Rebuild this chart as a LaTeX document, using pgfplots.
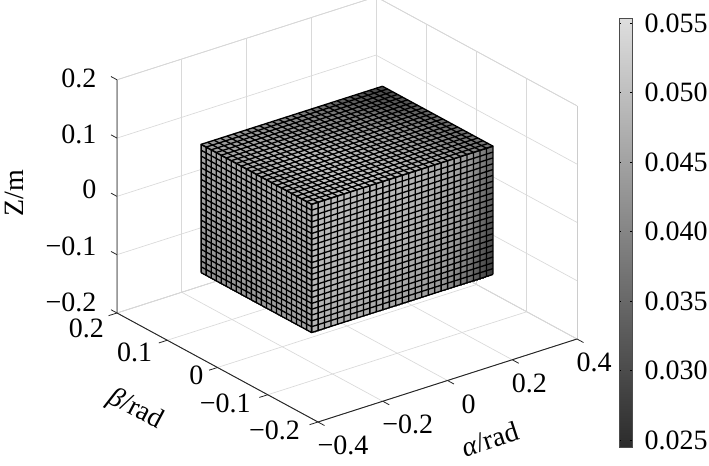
\documentclass[border=0pt]{standalone}
\usepackage{fontspec}
\setmainfont{Liberation Serif}
\usepackage{pgfplots}
\pgfplotsset{compat=1.18}
\newcommand{\lab}{\fontsize{21}{25}\selectfont}
\pgfplotstableread{
x y z m
-0.28 -0.11 -0.11 0.0479
-0.20 -0.11 -0.11 0.0470
-0.10 -0.11 -0.11 0.0461
0.00 -0.11 -0.11 0.0452
0.10 -0.11 -0.11 0.0435
0.20 -0.11 -0.11 0.0368
0.24 -0.11 -0.11 0.0311
0.28 -0.11 -0.11 0.0267

-0.28 -0.11 0.00 0.0487
-0.20 -0.11 0.00 0.0487
-0.10 -0.11 0.00 0.0487
0.00 -0.11 0.00 0.0479
0.10 -0.11 0.00 0.0461
0.20 -0.11 0.00 0.0426
0.24 -0.11 0.00 0.0368
0.28 -0.11 0.00 0.0315

-0.28 -0.11 0.11 0.0487
-0.20 -0.11 0.11 0.0496
-0.10 -0.11 0.11 0.0487
0.00 -0.11 0.11 0.0487
0.10 -0.11 0.11 0.0470
0.20 -0.11 0.11 0.0443
0.24 -0.11 0.11 0.0399
0.28 -0.11 0.11 0.0355
}\frontface
\pgfplotstableread{
x y z m
-0.28 -0.11 -0.11 0.0452
-0.28 0.00 -0.11 0.0435
-0.28 0.11 -0.11 0.0418

-0.28 -0.11 0.00 0.0461
-0.28 0.00 0.00 0.0461
-0.28 0.11 0.00 0.0443

-0.28 -0.11 0.11 0.0470
-0.28 0.00 0.11 0.0470
-0.28 0.11 0.11 0.0452
}\leftface
\pgfplotstableread{
x y z m
-0.28 -0.11 0.11 0.0487
-0.14 -0.11 0.11 0.0513
0.00 -0.11 0.11 0.0496
0.14 -0.11 0.11 0.0461
0.28 -0.11 0.11 0.0368

-0.28 0.00 0.11 0.0470
-0.14 0.00 0.11 0.0505
0.00 0.00 0.11 0.0479
0.14 0.00 0.11 0.0435
0.28 0.00 0.11 0.0346

-0.28 0.11 0.11 0.0435
-0.14 0.11 0.11 0.0426
0.00 0.11 0.11 0.0391
0.14 0.11 0.11 0.0338
0.28 0.11 0.11 0.0289
}\topface
\begin{document}
\begin{tikzpicture}
\useasboundingbox (0,0) rectangle (531.75pt,349.5pt);
\clip (0,0) rectangle (531.75pt,349.5pt);
\begin{axis}[
    at={(260.25pt,192.45pt)}, anchor=origin,
    x={(242.81pt,77.81pt)}, y={(-376.88pt,204.38pt)}, z={(0pt,437.25pt)},
    xmin=-0.4, xmax=0.4, ymin=-0.2, ymax=0.2, zmin=-0.2, zmax=0.2,
    xtick={-0.4,-0.2,0,0.2,0.4},
    ytick={-0.2,-0.1,0,0.1,0.2},
    ztick={-0.2,-0.1,0,0.1,0.2},
    xtick pos=lower, ytick pos=lower, ztick pos=left,
    xticklabels={−0.4,−0.2,\hspace*{11pt}0,0.2,0.4},
    yticklabels={−0.2\hspace*{3.75pt},−0.1\hspace*{3pt},0\hspace*{0.75pt},\raisebox{-3pt}{0.1}\hspace*{1.5pt},\raisebox{-5pt}{0.2}},
    zticklabels={\raisebox{8.25pt}{−0.2},\raisebox{6.75pt}{−0.1},\raisebox{5.25pt}{0},\raisebox{3pt}{0.1},\raisebox{1.5pt}{0.2}},
    tick label style={font=\lab, text height=14pt, text depth=0pt},
    xticklabel style={anchor=west, xshift=-8.25pt, yshift=-15pt},
    yticklabel style={anchor=east, xshift=-1.5pt, yshift=-4.5pt},
    zticklabel style={anchor=east, xshift=-7.5pt, yshift=-2.5pt},
    grid=major,
    grid style={gray!30, line width=0.5pt},
    axis line style={gray!40, line width=0.5pt},
    tick style={draw=none},
    tick align=outside,
    major tick length=5pt,
    clip=false,
    colormap={gr}{gray(0cm)=(0.17); gray(1cm)=(0.87)},
    point meta min=0.0245, point meta max=0.05536,
    colorbar,
    colorbar style={
        at={(parent axis.origin)}, anchor=south west,
        xshift=195.75pt, yshift=-178.2pt,
        scale only axis, width=9.4pt, height=321.75pt,
        ytick={0.025,0.03,0.035,0.04,0.045,0.05,0.055},
        yticklabels={0.025,0.030,0.035,0.040,0.045,0.050,0.055},
        scaled y ticks=false,
        tick align=inside, major tick length=1.5pt,
        tick style={draw=black, line width=0.4pt},
        axis line style={black!70, line width=0.5pt},
        yticklabel style={font=\lab, anchor=west, xshift=6pt},
        grid=none,
    },
]
\addplot3[surf, shader=interp, mesh/rows=3, point meta=explicit] table[x=x, y=y, z=z, meta=m] {\frontface};
\addplot3[surf, shader=interp, mesh/rows=3, point meta=explicit] table[x=x, y=y, z=z, meta=m] {\leftface};
\addplot3[surf, shader=interp, mesh/rows=3, point meta=explicit] table[x=x, y=y, z=z, meta=m] {\topface};
% cell borders
\pgfplotsinvokeforeach{-0.28,-0.26,...,0.281}{
    \addplot3[black, line width=1pt, no marks, forget plot] coordinates {(#1,0.11,0.11) (#1,-0.11,0.11) (#1,-0.11,-0.11)};
}
\pgfplotsinvokeforeach{-0.11,-0.10,...,0.111}{
    \addplot3[black, line width=1pt, no marks, forget plot] coordinates {(-0.28,#1,-0.11) (-0.28,#1,0.11) (0.28,#1,0.11)};
    \addplot3[black, line width=1pt, no marks, forget plot] coordinates {(-0.28,0.11,#1) (-0.28,-0.11,#1) (0.28,-0.11,#1)};
}
% dark axis lines
\addplot3[black!85, line width=0.7pt, no marks, forget plot] coordinates {(-0.4,0.2,0.2) (-0.4,0.2,-0.2) (-0.4,-0.2,-0.2) (0.4,-0.2,-0.2)};
% ticks only on the three dark lines
\pgfplotsinvokeforeach{-0.4,-0.2,0,0.2,0.4}{
    \addplot3[black!85, line width=0.6pt, no marks, forget plot] coordinates {(#1,-0.2,-0.2) (#1,-0.213,-0.2)};
}
\pgfplotsinvokeforeach{-0.2,-0.1,0,0.1,0.2}{
    \addplot3[black!85, line width=0.6pt, no marks, forget plot] coordinates {(-0.4,#1,-0.2) (-0.426,#1,-0.2)};
    \addplot3[black!85, line width=0.6pt, no marks, forget plot] coordinates {(-0.4,0.2,#1) (-0.4,0.212,#1)};
}
\node[font=\lab, rotate=90] at (axis cs:-0.717,0.2,0.0615) {Z/m};
\node[font=\lab, rotate=18] at (axis cs:-0.117,-0.36,-0.205) {\textit{α}/rad};
\node[font=\lab, rotate=-28] at (axis cs:-0.692,-0.025,-0.2086) {\textit{β}/rad};
\end{axis}
\end{tikzpicture}
\end{document}
